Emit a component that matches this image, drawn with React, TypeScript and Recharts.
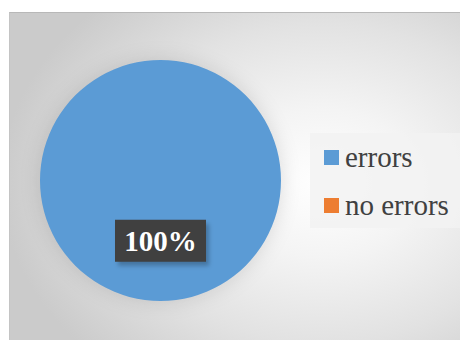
import React from 'react';
import { PieChart, Pie, Cell, Legend } from 'recharts';

const categories = ['errors', 'no errors'];
const values = [100, 0];
const colors = ['#5B9BD5', '#ED7D31'];

const data = categories.map((name, i) => ({ name, value: values[i] }));

const RAD = Math.PI / 180;

const renderLabel = (props: any) => {
  const { cx, cy, midAngle, outerRadius, percent } = props;
  if (!percent) return null;
  const r = outerRadius * 0.5;
  const x = cx + r * Math.cos(-midAngle * RAD);
  const y = cy + r * Math.sin(-midAngle * RAD);
  const w = 91;
  const h = 42;
  return (
    <g>
      <rect x={x - w / 2 + 3} y={y - h / 2 + 4} width={w} height={h} fill="rgba(0,0,0,0.25)" filter="url(#lblBlur)" />
      <rect x={x - w / 2} y={y - h / 2} width={w} height={h} fill="#404040" />
      <text
        x={x}
        y={y + 10}
        textAnchor="middle"
        fill="#ffffff"
        fontFamily="'Liberation Serif', 'Times New Roman', serif"
        fontWeight="bold"
        fontSize={29}
      >
        {`${Math.round(percent * 100)}%`}
      </text>
    </g>
  );
};

const renderLegend = () => (
  <div
    style={{
      width: 151,
      height: 95,
      background: 'rgba(242,242,242,0.85)',
      fontFamily: "'Liberation Serif', 'Times New Roman', serif",
      fontSize: 29,
      color: '#404040',
      position: 'relative',
    }}
  >
    {data.map((d, i) => (
      <div
        key={d.name}
        style={{ position: 'absolute', left: 14, top: 9 + i * 48, height: 30, display: 'flex', alignItems: 'center' }}
      >
        <span style={{ display: 'inline-block', width: 15, height: 15, background: colors[i], marginRight: 6 }} />
        <span style={{ lineHeight: '30px' }}>{d.name}</span>
      </div>
    ))}
  </div>
);

export default function App() {
  return (
    <div
      style={{
        marginLeft: 1,
        marginTop: 4,
        width: 459,
        height: 328,
        borderTop: '1px solid #b8b8b8',
        borderLeft: '1px solid #c4c4c4',
        boxSizing: 'border-box',
        background:
          'radial-gradient(ellipse 70% 75% at 68% 52%, #ffffff 0%, #f4f4f4 30%, #e2e2e2 65%, #cbcbcb 100%)',
        position: 'relative',
      }}
    >
      <PieChart width={458} height={327} margin={{ top: 0, right: 0, bottom: 0, left: 0 }}>
        <defs>
          <filter id="lblBlur" x="-20%" y="-20%" width="140%" height="140%">
            <feGaussianBlur stdDeviation="2" />
          </filter>
        </defs>
        <Pie
          data={data}
          dataKey="value"
          nameKey="name"
          cx={150.5}
          cy={167.5}
          outerRadius={120.5}
          startAngle={90}
          endAngle={-270}
          stroke="none"
          label={renderLabel}
          labelLine={false}
          isAnimationActive={false}
        >
          {data.map((d, i) => (
            <Cell key={d.name} fill={colors[i]} style={{ filter: 'drop-shadow(0px 0px 10px rgba(0,0,0,0.12))' }} />
          ))}
        </Pie>
        <Legend
          content={renderLegend}
          wrapperStyle={{ position: 'absolute', left: 300, top: 120, width: 151, height: 95 }}
        />
      </PieChart>
    </div>
  );
}
